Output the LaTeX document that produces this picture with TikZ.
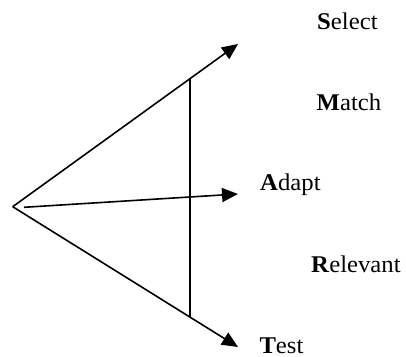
\documentclass[tikz,border=0pt]{standalone}
\usepackage{fontspec}
\setmainfont{Liberation Serif}[FakeStretch=1.03]
\usetikzlibrary{arrows.meta}
\begin{document}
\begin{tikzpicture}[x=1pt,y=1pt,
  ray/.style={line width=1.6pt,-{Triangle[length=16pt,width=14pt]}},
  bar/.style={line width=1.6pt},
  lbl/.style={anchor=base west,inner sep=0pt,font=\fontsize{24}{28}\selectfont}]
\useasboundingbox (0,0) rectangle (406,356);
\coordinate (apex) at (12.7,149.3);
\coordinate (mstart) at (24,148.7);
\coordinate (ttop) at (238,312);
\coordinate (tmid) at (238,162);
\coordinate (tbot) at (238,9);
\coordinate (vtop) at (190,277.3);
\coordinate (vbot) at (190,38.8);
\draw[ray] (apex) -- (ttop);
\draw[ray] (apex) -- (tbot);
\draw[ray] (mstart) -- (tmid);
\draw[bar] (vtop) -- (vbot);
\node[lbl] (sel) at (317,326) {\textbf{S}elect};
\node[lbl] (mat) at (316.5,245) {\textbf{M}atch};
\node[lbl] (ada) at (260,165) {\textbf{A}dapt};
\node[lbl] (rel) at (311,83.7) {\textbf{R}elevant};
\node[lbl] (tst) at (259.3,3) {\textbf{T}est};
\end{tikzpicture}
\end{document}
